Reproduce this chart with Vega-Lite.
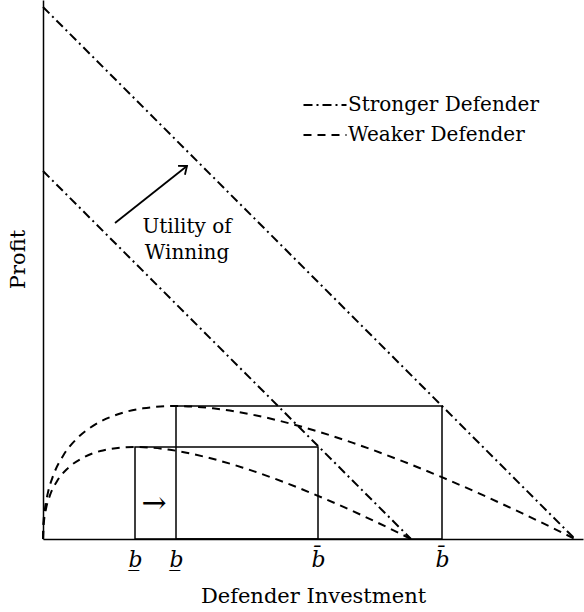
{
  "$schema": "https://vega.github.io/schema/vega-lite/v6.json",
  "width": 540,
  "height": 539,
  "autosize": "none",
  "padding": {"left": 43, "top": 0, "right": 1, "bottom": 73},
  "background": "white",
  "config": {"view": {"stroke": null}, "font": "DejaVu Serif"},
  "datasets": {
    "curves": [
      {"id": "S1", "series": "Stronger Defender", "b": 0, "p": 532},
      {"id": "S1", "series": "Stronger Defender", "b": 532, "p": 0},
      {"id": "S2", "series": "Stronger Defender", "b": 0, "p": 368},
      {"id": "S2", "series": "Stronger Defender", "b": 368, "p": 0},
      {"id": "W1", "series": "Weaker Defender", "b": 0, "p": 0},
      {"id": "W1", "series": "Weaker Defender", "b": 0.5, "p": 15.8},
      {"id": "W1", "series": "Weaker Defender", "b": 2, "p": 30.6},
      {"id": "W1", "series": "Weaker Defender", "b": 5, "p": 46.6},
      {"id": "W1", "series": "Weaker Defender", "b": 10, "p": 62.9},
      {"id": "W1", "series": "Weaker Defender", "b": 20, "p": 83.1},
      {"id": "W1", "series": "Weaker Defender", "b": 35, "p": 101.5},
      {"id": "W1", "series": "Weaker Defender", "b": 50, "p": 113.1},
      {"id": "W1", "series": "Weaker Defender", "b": 75, "p": 124.7},
      {"id": "W1", "series": "Weaker Defender", "b": 100, "p": 130.7},
      {"id": "W1", "series": "Weaker Defender", "b": 133, "p": 133},
      {"id": "W1", "series": "Weaker Defender", "b": 170, "p": 130.7},
      {"id": "W1", "series": "Weaker Defender", "b": 210, "p": 124.2},
      {"id": "W1", "series": "Weaker Defender", "b": 260, "p": 111.9},
      {"id": "W1", "series": "Weaker Defender", "b": 310, "p": 96.1},
      {"id": "W1", "series": "Weaker Defender", "b": 360, "p": 77.6},
      {"id": "W1", "series": "Weaker Defender", "b": 400, "p": 61.3},
      {"id": "W1", "series": "Weaker Defender", "b": 440, "p": 43.8},
      {"id": "W1", "series": "Weaker Defender", "b": 480, "p": 25.3},
      {"id": "W1", "series": "Weaker Defender", "b": 510, "p": 10.9},
      {"id": "W1", "series": "Weaker Defender", "b": 532, "p": 0},
      {"id": "W2", "series": "Weaker Defender", "b": 0, "p": 0},
      {"id": "W2", "series": "Weaker Defender", "b": 0.3, "p": 10.5},
      {"id": "W2", "series": "Weaker Defender", "b": 1, "p": 18.2},
      {"id": "W2", "series": "Weaker Defender", "b": 3, "p": 30.2},
      {"id": "W2", "series": "Weaker Defender", "b": 7, "p": 43.8},
      {"id": "W2", "series": "Weaker Defender", "b": 14, "p": 57.8},
      {"id": "W2", "series": "Weaker Defender", "b": 25, "p": 70.9},
      {"id": "W2", "series": "Weaker Defender", "b": 40, "p": 81.3},
      {"id": "W2", "series": "Weaker Defender", "b": 60, "p": 88.6},
      {"id": "W2", "series": "Weaker Defender", "b": 92, "p": 92},
      {"id": "W2", "series": "Weaker Defender", "b": 125, "p": 89.5},
      {"id": "W2", "series": "Weaker Defender", "b": 160, "p": 82.6},
      {"id": "W2", "series": "Weaker Defender", "b": 200, "p": 71.3},
      {"id": "W2", "series": "Weaker Defender", "b": 240, "p": 57.2},
      {"id": "W2", "series": "Weaker Defender", "b": 280, "p": 41.0},
      {"id": "W2", "series": "Weaker Defender", "b": 320, "p": 23.2},
      {"id": "W2", "series": "Weaker Defender", "b": 350, "p": 8.9},
      {"id": "W2", "series": "Weaker Defender", "b": 368, "p": 0}
    ],
    "boxes": [
      {"b": 92, "b2": 275, "p": 92},
      {"b": 133, "b2": 399, "p": 133}
    ],
    "notes": [
      {"b": 144, "p": 306, "label": "Utility of\nWinning"}
    ],
    "shift": [
      {"b": 111, "p": 35, "label": "→"}
    ],
    "arrow": [
      {"b": 72, "p": 316, "b2": 144, "p2": 373}
    ]
  },
  "encoding": {
    "x": {
      "field": "b", "type": "quantitative",
      "scale": {"domain": [0, 540], "nice": false, "zero": false},
      "axis": {
        "title": "Defender Investment",
        "values": [92, 133, 275, 399],
        "labelExpr": "datum.value < 200 ? 'b\u0332' : 'b\u0304'",
        "ticks": false, "grid": false, "labelOverlap": false, "labelFlush": false,
        "domainColor": "black", "domainWidth": 1.5,
        "labelFont": "DejaVu Serif", "labelFontStyle": "italic", "labelFontSize": 22,
        "labelColor": "black", "labelPadding": 10,
        "titleFont": "DejaVu Serif", "titleFontSize": 21, "titleFontWeight": "normal",
        "titleColor": "black", "titlePadding": 15
      }
    },
    "y": {
      "field": "p", "type": "quantitative",
      "scale": {"domain": [0, 539], "nice": false, "zero": false},
      "axis": {
        "title": "Profit", "labels": false, "ticks": false, "grid": false,
        "domainColor": "black", "domainWidth": 1.5,
        "titleFont": "DejaVu Serif", "titleFontSize": 21, "titleFontWeight": "normal",
        "titleColor": "black", "titleAngle": -90, "titleX": -25, "titleY": 259,
        "titleAlign": "center", "titleBaseline": "middle"
      }
    }
  },
  "layer": [
    {
      "data": {"name": "boxes"},
      "mark": {"type": "rect", "filled": false, "stroke": "black", "strokeWidth": 1.5},
      "encoding": {"x2": {"field": "b2"}, "y2": {"datum": 0}}
    },
    {
      "data": {"name": "curves"},
      "mark": {"type": "line", "color": "black", "strokeWidth": 2, "interpolate": "monotone"},
      "encoding": {
        "detail": {"field": "id"},
        "order": {"field": "b", "type": "quantitative"},
        "strokeDash": {
          "field": "series", "type": "nominal",
          "scale": {"domain": ["Stronger Defender", "Weaker Defender"], "range": [[9, 4, 2, 4], [8, 6]]},
          "legend": {
            "title": null, "orient": "none", "legendX": 259, "legendY": 90,
            "symbolType": "stroke", "symbolSize": 1850, "symbolStrokeWidth": 2,
            "symbolStrokeColor": "black", "labelFont": "DejaVu Serif", "labelFontSize": 20,
            "labelColor": "black", "labelOffset": 0, "labelLimit": 0,
            "clipHeight": 30, "rowPadding": 0, "padding": 0
          }
        }
      }
    },
    {
      "data": {"name": "notes"},
      "mark": {"type": "text", "align": "center", "baseline": "alphabetic", "lineBreak": "\n", "lineHeight": 26, "font": "DejaVu Serif", "fontSize": 20, "color": "black"},
      "encoding": {"text": {"field": "label"}}
    },
    {
      "data": {"name": "shift"},
      "mark": {"type": "text", "align": "center", "baseline": "middle", "font": "DejaVu Serif", "fontSize": 30, "color": "black"},
      "encoding": {"text": {"field": "label"}}
    },
    {
      "data": {"name": "arrow"},
      "mark": {"type": "rule", "color": "black", "strokeWidth": 1.8},
      "encoding": {"x2": {"field": "b2"}, "y2": {"field": "p2"}}
    },
    {
      "data": {"name": "arrow"},
      "mark": {"type": "point", "shape": "M -1 -0.8 L 0 0 L -1 0.8", "filled": false, "stroke": "black", "strokeWidth": 1.8, "size": 196, "angle": -38, "opacity": 1},
      "encoding": {"x": {"field": "b2", "type": "quantitative"}, "y": {"field": "p2", "type": "quantitative"}}
    }
  ]
}
